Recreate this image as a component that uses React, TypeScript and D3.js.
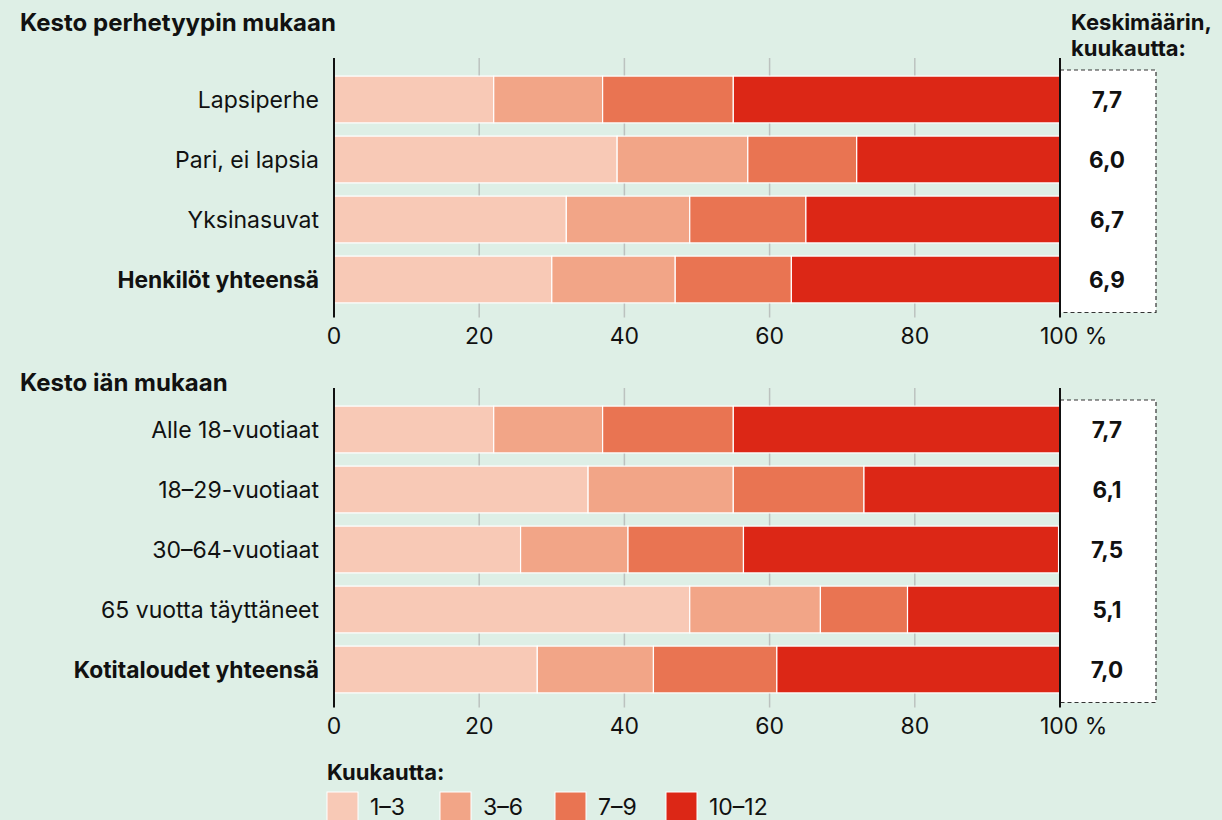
import React from "react";
import * as d3 from "d3";

const seriesKeys = ["1–3", "3–6", "7–9", "10–12"];
const seriesColors = ["#f8c9b6", "#f2a587", "#e97452", "#dc2716"];

const familyCats = ["Lapsiperhe", "Pari, ei lapsia", "Yksinasuvat", "Henkilöt yhteensä"];
const familyValues = [
  [22, 15, 18, 45],
  [39, 18, 15, 28],
  [32, 17, 16, 35],
  [30, 17, 16, 37],
];
const familyMeans = ["7,7", "6,0", "6,7", "6,9"];

const ageCats = ["Alle 18-vuotiaat", "18–29-vuotiaat", "30–64-vuotiaat", "65 vuotta täyttäneet", "Kotitaloudet yhteensä"];
const ageValues = [
  [22, 15, 18, 45],
  [35, 20, 18, 27],
  [25.7, 14.8, 15.9, 43.4],
  [49, 18, 12, 21],
  [28, 16, 17, 39],
];
const ageMeans = ["7,7", "6,1", "7,5", "5,1", "7,0"];

const xTicks = [0, 20, 40, 60, 80, 100];

const W = 1222;
const H = 820;
const FONT = "Inter, Roboto, sans-serif";

const x = d3.scaleLinear().domain([0, 100]).range([334, 1060]);

function Panel({ title, titleY, cats, values, means, range, boldLast, showHeader }) {
  const y = d3.scaleBand().domain(cats).range(range).paddingInner(0.22).paddingOuter(0.11);
  const top = range[0] - 11.5;
  const bottom = range[1] + 8;
  const rows = cats.map((c, i) => {
    const vals = values[i];
    const stacked = d3.cumsum(vals);
    return { cat: c, segs: vals.map((v, j) => ({ x0: stacked[j] - v, x1: stacked[j], j })) };
  });
  const boxX1 = x(100) + 96;
  return (
    <g>
      <text x={20} y={titleY} fontFamily={FONT} fontWeight={700} fontSize={24} fill="#111">{title}</text>
      {showHeader && (
        <text fontFamily={FONT} fontWeight={700} fontSize={22} fill="#111">
          <tspan x={1071} y={30}>Keskimäärin,</tspan>
          <tspan x={1071} y={56}>kuukautta:</tspan>
        </text>
      )}
      {/* grid */}
      {xTicks.slice(1, -1).map(t => (
        <line key={t} x1={x(t)} x2={x(t)} y1={top} y2={bottom} stroke="#bcc2bf" strokeWidth={1.5} />
      ))}
      {/* bars */}
      {rows.map((r, i) => (
        <g key={r.cat}>
          {r.segs.map(s => (
            <rect key={s.j} x={x(s.x0)} y={y(r.cat)} width={x(s.x1) - x(s.x0)} height={y.bandwidth()}
              fill={seriesColors[s.j]} stroke="#fff" strokeWidth={1.2} />
          ))}
          <text x={319} y={y(r.cat) + y.bandwidth() / 2} dy="0.36em" textAnchor="end"
            fontFamily={FONT} fontSize={boldLast && i === cats.length - 1 ? 22.8 : 23}
            fontWeight={boldLast && i === cats.length - 1 ? 700 : 400} fill="#111">
            {r.cat}
          </text>
        </g>
      ))}
      {/* means box */}
      <rect x={x(100)} y={range[0] + 0.5} width={boxX1 - x(100)} height={range[1] - range[0] + 2.5}
        fill="#fff" stroke="#333" strokeWidth={1.2} strokeDasharray="4,3" />
      {rows.map((r, i) => (
        <text key={r.cat} x={x(100) + 47} y={y(r.cat) + y.bandwidth() / 2} dy="0.36em" textAnchor="middle"
          fontFamily={FONT} fontSize={22.5} fontWeight={700} fill="#111">{means[i]}</text>
      ))}
      {/* axis lines */}
      <line x1={x(0)} x2={x(0)} y1={top} y2={bottom} stroke="#111" strokeWidth={2} />
      <line x1={x(100)} x2={x(100)} y1={top} y2={bottom} stroke="#111" strokeWidth={2} />
      {xTicks.map(t => (
        <text key={t} x={t === 100 ? x(t) - 20 : x(t)} y={bottom + 26} textAnchor={t === 100 ? "start" : "middle"}
          fontFamily={FONT} fontSize={23} fill="#111">{t === 100 ? "100 %" : t}</text>
      ))}
    </g>
  );
}

export default function App() {
  return (
    <svg width={W} height={H} style={{ display: "block", position: "absolute", left: 0, top: 0 }}>
      <rect width={W} height={H} fill="#deefe6" />
      <Panel title="Kesto perhetyypin mukaan" titleY={31} cats={familyCats} values={familyValues} means={familyMeans}
        range={[69.5, 309.5]} boldLast showHeader />
      <Panel title="Kesto iän mukaan" titleY={391} cats={ageCats} values={ageValues} means={ageMeans}
        range={[399.5, 699.5]} boldLast showHeader={false} />
      <text x={327} y={780} fontFamily={FONT} fontWeight={700} fontSize={22} fill="#111">Kuukautta:</text>
      {seriesKeys.map((k, i) => {
        const lx = [327, 440, 555, 666][i];
        return (
          <g key={k}>
            <rect x={lx} y={792} width={31} height={30} fill={seriesColors[i]} stroke="#fff" strokeWidth={1} />
            <text x={lx + 43} y={815} fontFamily={FONT} fontSize={23} fill="#111">{k}</text>
          </g>
        );
      })}
    </svg>
  );
}
